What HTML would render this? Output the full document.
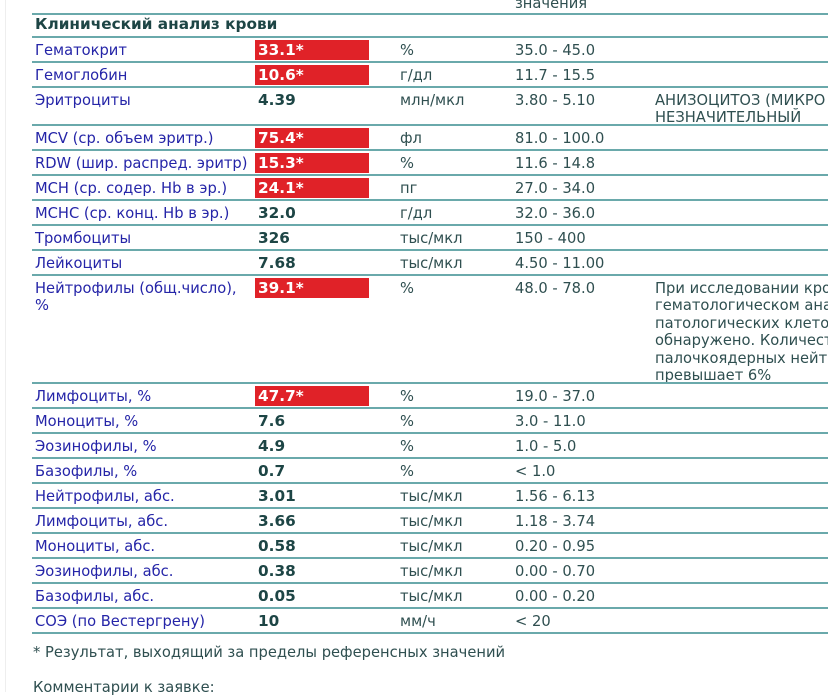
<!DOCTYPE html>
<html><head><meta charset="utf-8"><style>
body{margin:0;width:828px;height:692px;overflow:hidden;background:#fff;font-family:"DejaVu Sans","Liberation Sans",sans-serif;font-size:14.7px;position:relative}
.ln{position:absolute;left:32px;right:0;height:2px;background:#6aa9ab}
.t{position:absolute;white-space:nowrap;line-height:17.4px;margin-top:1px}
.n{color:#2525a8;left:35px}
.v{left:258px;font-weight:bold;color:#1d4545;font-size:15.3px}
.r{position:absolute;left:255px;width:114px;height:20px;background:#e02228}
.rv{color:#fff}
.u{left:400px;color:#2f4f50}
.g{left:515px;color:#2f4f50}
.c{left:655px;color:#2f4f50}
.side{position:absolute;left:5px;top:0;bottom:0;width:1px;background:#eee}
</style></head><body>
<div class="side"></div>
<div class="t" style="left:515px;top:-6px;color:#2f4f50">значения</div>
<div class="ln" style="top:13px"></div>
<div class="t" style="left:35px;top:15px;font-weight:bold;color:#1d4545;font-size:15.3px">Клинический анализ крови</div>
<div class="ln" style="top:36px"></div>

<div class="r" style="top:40px"></div>
<div class="t n" style="top:41px">Гематокрит</div><div class="t v rv" style="top:41px">33.1*</div><div class="t u" style="top:41px">%</div><div class="t g" style="top:41px">35.0 - 45.0</div>
<div class="ln" style="top:61px"></div>
<div class="r" style="top:65px"></div>
<div class="t n" style="top:66px">Гемоглобин</div><div class="t v rv" style="top:66px">10.6*</div><div class="t u" style="top:66px">г/дл</div><div class="t g" style="top:66px">11.7 - 15.5</div>
<div class="ln" style="top:86px"></div>
<div class="t n" style="top:91px">Эритроциты</div><div class="t v" style="top:91px">4.39</div><div class="t u" style="top:91px">млн/мкл</div><div class="t g" style="top:91px">3.80 - 5.10</div><div class="t c" style="top:91px">АНИЗОЦИТОЗ (МИКРО<br>НЕЗНАЧИТЕЛЬНЫЙ</div>
<div class="ln" style="top:124px"></div>
<div class="r" style="top:128px"></div>
<div class="t n" style="top:129px">MCV (ср. объем эритр.)</div><div class="t v rv" style="top:129px">75.4*</div><div class="t u" style="top:129px">фл</div><div class="t g" style="top:129px">81.0 - 100.0</div>
<div class="ln" style="top:149px"></div>
<div class="r" style="top:153px"></div>
<div class="t n" style="top:154px">RDW (шир. распред. эритр)</div><div class="t v rv" style="top:154px">15.3*</div><div class="t u" style="top:154px">%</div><div class="t g" style="top:154px">11.6 - 14.8</div>
<div class="ln" style="top:174px"></div>
<div class="r" style="top:178px"></div>
<div class="t n" style="top:179px">MCH (ср. содер. Hb в эр.)</div><div class="t v rv" style="top:179px">24.1*</div><div class="t u" style="top:179px">пг</div><div class="t g" style="top:179px">27.0 - 34.0</div>
<div class="ln" style="top:199px"></div>
<div class="t n" style="top:204px">MCHC (ср. конц. Hb в эр.)</div><div class="t v" style="top:204px">32.0</div><div class="t u" style="top:204px">г/дл</div><div class="t g" style="top:204px">32.0 - 36.0</div>
<div class="ln" style="top:224px"></div>
<div class="t n" style="top:229px">Тромбоциты</div><div class="t v" style="top:229px">326</div><div class="t u" style="top:229px">тыс/мкл</div><div class="t g" style="top:229px">150 - 400</div>
<div class="ln" style="top:249px"></div>
<div class="t n" style="top:254px">Лейкоциты</div><div class="t v" style="top:254px">7.68</div><div class="t u" style="top:254px">тыс/мкл</div><div class="t g" style="top:254px">4.50 - 11.00</div>
<div class="ln" style="top:274px"></div>
<div class="r" style="top:278px"></div>
<div class="t n" style="top:279px">Нейтрофилы (общ.число),<br>%</div><div class="t v rv" style="top:279px">39.1*</div><div class="t u" style="top:279px">%</div><div class="t g" style="top:279px">48.0 - 78.0</div><div class="t c" style="top:279px">При исследовании кро<br>гематологическом ана<br>патологических клето<br>обнаружено. Количест<br>палочкоядерных нейтр<br>превышает 6%</div>
<div class="ln" style="top:382px"></div>
<div class="r" style="top:386px"></div>
<div class="t n" style="top:387px">Лимфоциты, %</div><div class="t v rv" style="top:387px">47.7*</div><div class="t u" style="top:387px">%</div><div class="t g" style="top:387px">19.0 - 37.0</div>
<div class="ln" style="top:407px"></div>
<div class="t n" style="top:412px">Моноциты, %</div><div class="t v" style="top:412px">7.6</div><div class="t u" style="top:412px">%</div><div class="t g" style="top:412px">3.0 - 11.0</div>
<div class="ln" style="top:432px"></div>
<div class="t n" style="top:437px">Эозинофилы, %</div><div class="t v" style="top:437px">4.9</div><div class="t u" style="top:437px">%</div><div class="t g" style="top:437px">1.0 - 5.0</div>
<div class="ln" style="top:457px"></div>
<div class="t n" style="top:462px">Базофилы, %</div><div class="t v" style="top:462px">0.7</div><div class="t u" style="top:462px">%</div><div class="t g" style="top:462px">&lt; 1.0</div>
<div class="ln" style="top:482px"></div>
<div class="t n" style="top:487px">Нейтрофилы, абс.</div><div class="t v" style="top:487px">3.01</div><div class="t u" style="top:487px">тыс/мкл</div><div class="t g" style="top:487px">1.56 - 6.13</div>
<div class="ln" style="top:507px"></div>
<div class="t n" style="top:512px">Лимфоциты, абс.</div><div class="t v" style="top:512px">3.66</div><div class="t u" style="top:512px">тыс/мкл</div><div class="t g" style="top:512px">1.18 - 3.74</div>
<div class="ln" style="top:532px"></div>
<div class="t n" style="top:537px">Моноциты, абс.</div><div class="t v" style="top:537px">0.58</div><div class="t u" style="top:537px">тыс/мкл</div><div class="t g" style="top:537px">0.20 - 0.95</div>
<div class="ln" style="top:557px"></div>
<div class="t n" style="top:562px">Эозинофилы, абс.</div><div class="t v" style="top:562px">0.38</div><div class="t u" style="top:562px">тыс/мкл</div><div class="t g" style="top:562px">0.00 - 0.70</div>
<div class="ln" style="top:582px"></div>
<div class="t n" style="top:587px">Базофилы, абс.</div><div class="t v" style="top:587px">0.05</div><div class="t u" style="top:587px">тыс/мкл</div><div class="t g" style="top:587px">0.00 - 0.20</div>
<div class="ln" style="top:607px"></div>
<div class="t n" style="top:612px">СОЭ (по Вестергрену)</div><div class="t v" style="top:612px">10</div><div class="t u" style="top:612px">мм/ч</div><div class="t g" style="top:612px">&lt; 20</div>
<div class="ln" style="top:632px"></div>
<div class="t" style="left:33px;top:643px;color:#2f4f50">* Результат, выходящий за пределы референсных значений</div>
<div class="t" style="left:33px;top:678px;color:#2f4f50">Комментарии к заявке:</div>
</body></html>
